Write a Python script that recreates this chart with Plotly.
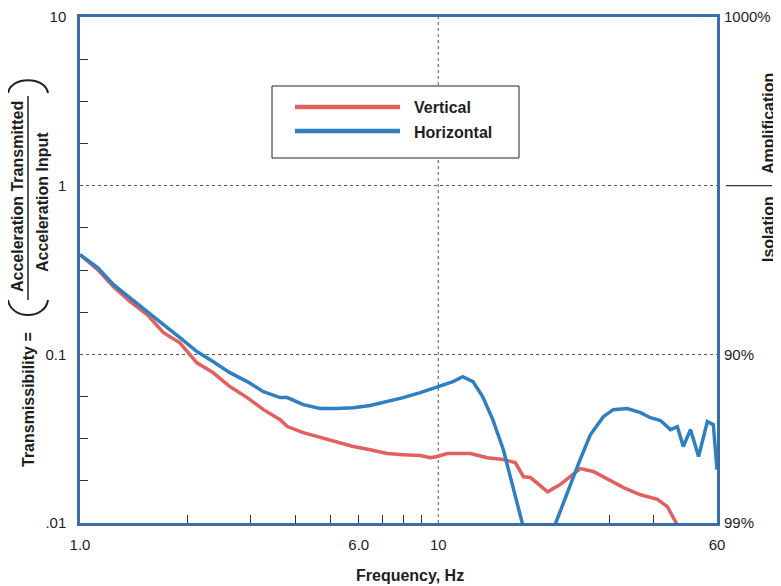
import math
import plotly.graph_objects as go

# ---------------- data ----------------
freq_vertical = [1.0, 1.12, 1.24, 1.38, 1.54, 1.71, 1.90, 2.12, 2.35, 2.62, 2.93, 3.25, 3.62, 3.79,
                 4.20, 4.68, 5.22, 5.79, 6.46, 7.20, 7.98, 8.91, 9.5, 9.94, 10.6, 12.3, 13.7, 15.2,
                 16.4, 17.3, 18.1, 20.2, 21.9, 24.9, 27.1, 29.7, 32.9, 36.7, 40.9, 43.6, 46.5, 47.7]
trans_vertical = [0.39, 0.318, 0.252, 0.205, 0.172, 0.1345, 0.117, 0.089, 0.078, 0.0644, 0.0554, 0.047,
                  0.041, 0.0373, 0.0343, 0.0321, 0.030, 0.0284, 0.0272, 0.0258, 0.0254, 0.0251, 0.0244,
                  0.0248, 0.0258, 0.0258, 0.0244, 0.0238, 0.0228, 0.0188, 0.0186, 0.0153, 0.0169, 0.0210,
                  0.0202, 0.0181, 0.0162, 0.0147, 0.0138, 0.0125, 0.0098, 0.0088]

freq_horizontal = [1.0, 1.12, 1.24, 1.38, 1.54, 1.71, 1.90, 2.12, 2.35, 2.62, 2.93, 3.25, 3.62, 3.79,
                   4.20, 4.68, 5.22, 5.79, 6.46, 7.20, 7.98, 8.91, 10.1, 11.0, 11.7, 12.5, 13.3, 14.2,
                   15.2, 16.2, 17.2, 17.8, 20.4, 21.2, 22.9, 24.9, 26.6, 28.9, 30.8, 33.7, 36.7, 39.1,
                   41.7, 44.5, 46.5, 48.3, 50.6, 53.3, 56.4, 58.6, 60.0]
trans_horizontal = [0.39, 0.327, 0.259, 0.217, 0.179, 0.150, 0.1256, 0.1038, 0.0906, 0.0779, 0.0689,
                    0.0601, 0.0554, 0.0554, 0.0503, 0.0477, 0.0477, 0.0483, 0.0497, 0.0525, 0.0554,
                    0.0593, 0.0652, 0.0689, 0.0738, 0.0689, 0.0562, 0.041, 0.0272, 0.0158, 0.0098,
                    0.0077, 0.0078, 0.0098, 0.0151, 0.0238, 0.0334, 0.0427, 0.047, 0.0477, 0.0451,
                    0.0421, 0.0405, 0.0358, 0.0373, 0.0284, 0.0358, 0.0248, 0.0399, 0.0383, 0.0207]

x_tick_vals = [1, 6, 10, 60]
x_tick_text = ["1.0", "6.0", "10", "60"]
x_minor_vals = [2, 3, 4, 5, 6, 7, 8, 9, 30, 40]
y_tick_vals = [0.01, 0.1, 1, 10]
y_tick_text = [".01", "0.1", "1", "10"]
y_minor_vals = [10 ** (k + f) for k in (-2, -1, 0) for f in (0.25, 0.5, 0.75)]
y2_tick_vals = [10, 0.1, 0.01]
y2_tick_text = ["1000%", "90%", "99%"]

series_names = ["Vertical", "Horizontal"]

# ---------------- style ----------------
RED = "#e2605f"
BLUE = "#2f7fc1"
FRAME = "#3a6fa6"
TXT = "#1e1e1e"
FONT = "Liberation Sans, Arial, sans-serif"

X_MAX = 60.0
Y_MIN, Y_MAX = 0.01, 10.0

OFF = 8  # page body margin of the browser
FIG_W, FIG_H = 781 - OFF, 586 - OFF
# plot-area edges in screenshot pixels
L, R, T, B = 80, 717, 17, 523
W, H = R - L, B - T


def xp(v):  # data -> paper x
    return math.log10(v) / math.log10(X_MAX)


def yp(v):  # data -> paper y
    return (math.log10(v) - math.log10(Y_MIN)) / (math.log10(Y_MAX) - math.log10(Y_MIN))


def px(x):  # screenshot pixel -> paper x
    return (x - L) / W


def py(y):  # screenshot pixel -> paper y
    return (B - y) / H


fig = go.Figure()
fig.add_trace(go.Scatter(x=freq_vertical, y=trans_vertical, mode="lines", name=series_names[0],
                         line=dict(color=RED, width=3.5), hoverinfo="x+y"))
fig.add_trace(go.Scatter(x=freq_horizontal, y=trans_horizontal, mode="lines", name=series_names[1],
                         line=dict(color=BLUE, width=3.5), hoverinfo="x+y"))
fig.add_trace(go.Scatter(x=[], y=[], yaxis="y2", showlegend=False, hoverinfo="skip"))

fig.update_layout(
    width=FIG_W, height=FIG_H,
    margin=dict(l=L - OFF, r=FIG_W - (R - OFF), t=T - OFF, b=FIG_H - (B - OFF), autoexpand=False),
    paper_bgcolor="white", plot_bgcolor="white",
    showlegend=False,
    font=dict(family=FONT, size=15, color=TXT),
    xaxis=dict(
        type="log", range=[0, math.log10(X_MAX)],
        tickmode="array", tickvals=x_tick_vals, ticktext=x_tick_text,
        ticks="", showgrid=False, zeroline=False,
        showline=True, linecolor=FRAME, linewidth=2.5, mirror=True,
        ticklabelstandoff=6,
        tickfont=dict(size=15, color=TXT),
        minor=dict(tickmode="array", tickvals=x_minor_vals, ticks="inside", ticklen=8,
                   tickwidth=1, tickcolor="#333", showgrid=False),
    ),
    yaxis=dict(
        type="log", range=[math.log10(Y_MIN), math.log10(Y_MAX)],
        tickmode="array", tickvals=y_tick_vals, ticktext=y_tick_text,
        ticks="", showgrid=True, gridcolor="#555", griddash="dot", gridwidth=1,
        zeroline=False,
        showline=True, linecolor=FRAME, linewidth=2.5, mirror=True,
        ticklabelstandoff=8,
        tickfont=dict(size=15, color=TXT),
        minor=dict(tickmode="array", tickvals=y_minor_vals, ticks="inside", ticklen=8,
                   tickwidth=1, tickcolor="#333", showgrid=False),
    ),
    yaxis2=dict(
        type="log", range=[math.log10(Y_MIN), math.log10(Y_MAX)],
        overlaying="y", side="right", anchor="x",
        tickmode="array", tickvals=y2_tick_vals, ticktext=y2_tick_text,
        ticks="", showgrid=False, zeroline=False, showline=False,
        ticklabelstandoff=6,
        tickfont=dict(size=15, color=TXT),
    ),
)

shapes = []
# vertical dotted gridline at 10 Hz
shapes.append(dict(type="line", xref="paper", yref="paper", x0=xp(10), x1=xp(10), y0=0, y1=1,
                   line=dict(color="#555", width=1, dash="dot"), layer="below"))
# isolation / amplification divider on the right
shapes.append(dict(type="line", xref="paper", yref="paper", x0=px(726), x1=px(772), y0=yp(1), y1=yp(1),
                   line=dict(color="#333", width=1.2)))
# fraction bar
shapes.append(dict(type="line", xref="paper", yref="paper", x0=px(28), x1=px(28), y0=py(96), y1=py(300),
                   line=dict(color="#222", width=1.5)))


def bracket(x0, x1, yend, ypeak):
    return ("M {a},{b} C {c},{d} {e},{d} {f},{b}".format(
        a=px(x0), b=py(yend), c=px(x0 + 3), d=py(ypeak), e=px(x1 - 3), f=px(x1)))


shapes.append(dict(type="path", xref="paper", yref="paper", path=bracket(8, 48, 300, 320),
                   line=dict(color="#222", width=2)))
shapes.append(dict(type="path", xref="paper", yref="paper", path=bracket(8, 48, 93, 76),
                   line=dict(color="#222", width=2)))

# legend box
shapes.append(dict(type="rect", xref="paper", yref="paper", x0=px(272), x1=px(519), y0=py(158), y1=py(86),
                   line=dict(color="#222", width=1), fillcolor="white"))
shapes.append(dict(type="line", xref="paper", yref="paper", x0=px(295), x1=px(400), y0=py(107), y1=py(107),
                   line=dict(color=RED, width=4.5)))
shapes.append(dict(type="line", xref="paper", yref="paper", x0=px(295), x1=px(400), y0=py(131), y1=py(131),
                   line=dict(color=BLUE, width=4.5)))
fig.update_layout(shapes=shapes)

bold = dict(size=16, color=TXT, family=FONT, weight="bold")
ann = []
ann.append(dict(text=series_names[0], xref="paper", yref="paper", x=px(412), y=py(108),
                xanchor="left", yanchor="middle", showarrow=False, font=bold))
ann.append(dict(text=series_names[1], xref="paper", yref="paper", x=px(412), y=py(132),
                xanchor="left", yanchor="middle", showarrow=False, font=bold))
# x axis title
ann.append(dict(text="Frequency, Hz", xref="paper", yref="paper", x=px(410), y=py(575),
                xanchor="center", yanchor="middle", showarrow=False, font=bold))
# left axis title pieces
ann.append(dict(text="Transmissibility =", xref="paper", yref="paper", x=px(28), y=py(400),
                xanchor="center", yanchor="middle", textangle=-90, showarrow=False, font=bold))
ann.append(dict(text="Acceleration Transmitted", xref="paper", yref="paper", x=px(18), y=py(197),
                xanchor="center", yanchor="middle", textangle=-90, showarrow=False, font=bold))
ann.append(dict(text="Acceleration Input", xref="paper", yref="paper", x=px(42), y=py(202),
                xanchor="center", yanchor="middle", textangle=-90, showarrow=False, font=bold))
# right side labels
ann.append(dict(text="Amplification", xref="paper", yref="paper", x=px(768), y=py(124),
                xanchor="center", yanchor="middle", textangle=-90, showarrow=False, font=bold))
ann.append(dict(text="Isolation", xref="paper", yref="paper", x=px(768), y=py(229),
                xanchor="center", yanchor="middle", textangle=-90, showarrow=False, font=bold))
fig.update_layout(annotations=ann)

fig.write_html("out.html")
